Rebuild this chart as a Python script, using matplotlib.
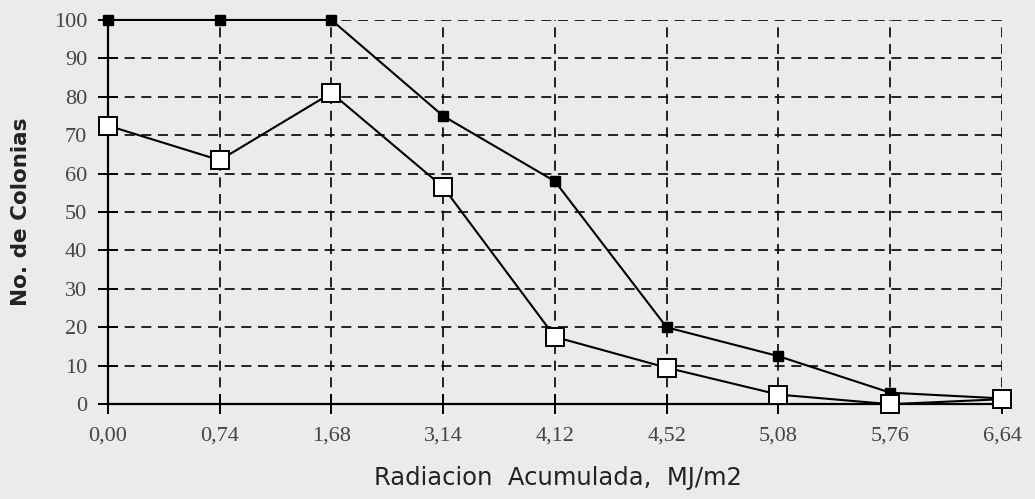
import matplotlib
matplotlib.use("Agg")
import matplotlib.pyplot as plt

categories = ["0,00", "0,74", "1,68", "3,14", "4,12", "4,52", "5,08", "5,76", "6,64"]
serie_llena = [100, 100, 100, 75, 58, 20, 12.5, 3, 1.5]
serie_abierta = [72.5, 63.5, 81, 56.5, 17.5, 9.5, 2.5, 0, 1.3]
y_ticks = [0, 10, 20, 30, 40, 50, 60, 70, 80, 90, 100]

bg = "#ebebeb"
fig = plt.figure(figsize=(10.35, 4.99), dpi=100, facecolor=bg)
ax = fig.add_axes([0.1043, 0.19, 0.8638, 0.77], facecolor=bg)

x = list(range(len(categories)))

ax.plot(x, serie_llena, color="black", lw=1.5, marker="s", markersize=6.5,
        markerfacecolor="black", markeredgecolor="black", clip_on=False, zorder=4)
ax.plot(x, serie_abierta, color="black", lw=1.5, marker="s", markersize=12.5,
        markerfacecolor="white", markeredgecolor="black", markeredgewidth=1.4,
        clip_on=False, zorder=5)

ax.set_xlim(0, len(categories) - 1)
ax.set_ylim(0, 100)
ax.set_xticks(x)
ax.set_xticklabels(categories, family="Liberation Serif", fontsize=16, color="#444444")
ax.set_yticks(y_ticks)
ax.set_yticklabels([str(v) for v in y_ticks], family="Liberation Serif", fontsize=16,
                   color="#444444")

ax.grid(True, color="black", linestyle=(0, (6, 4)), lw=1.2)
ax.set_axisbelow(True)
for s in ["top", "right"]:
    ax.spines[s].set_visible(False)
for s in ["left", "bottom"]:
    ax.spines[s].set_linewidth(1.6)
ax.tick_params(axis="both", direction="inout", length=14, width=1.4)
ax.tick_params(axis="x", pad=9)
ax.tick_params(axis="y", pad=8)

fig.text(558 / 1035, 1 - 478 / 499, "Radiacion  Acumulada,  MJ/m2",
         family="DejaVu Sans", fontsize=17.5, color="#222222",
         ha="center", va="center")
fig.text(21 / 1035, 1 - 212 / 499, "No. de Colonias", family="DejaVu Sans",
         fontweight="bold", fontsize=15.5, color="#222222", rotation=90,
         ha="center", va="center")

fig.savefig("out.png", dpi=100, facecolor=bg)
